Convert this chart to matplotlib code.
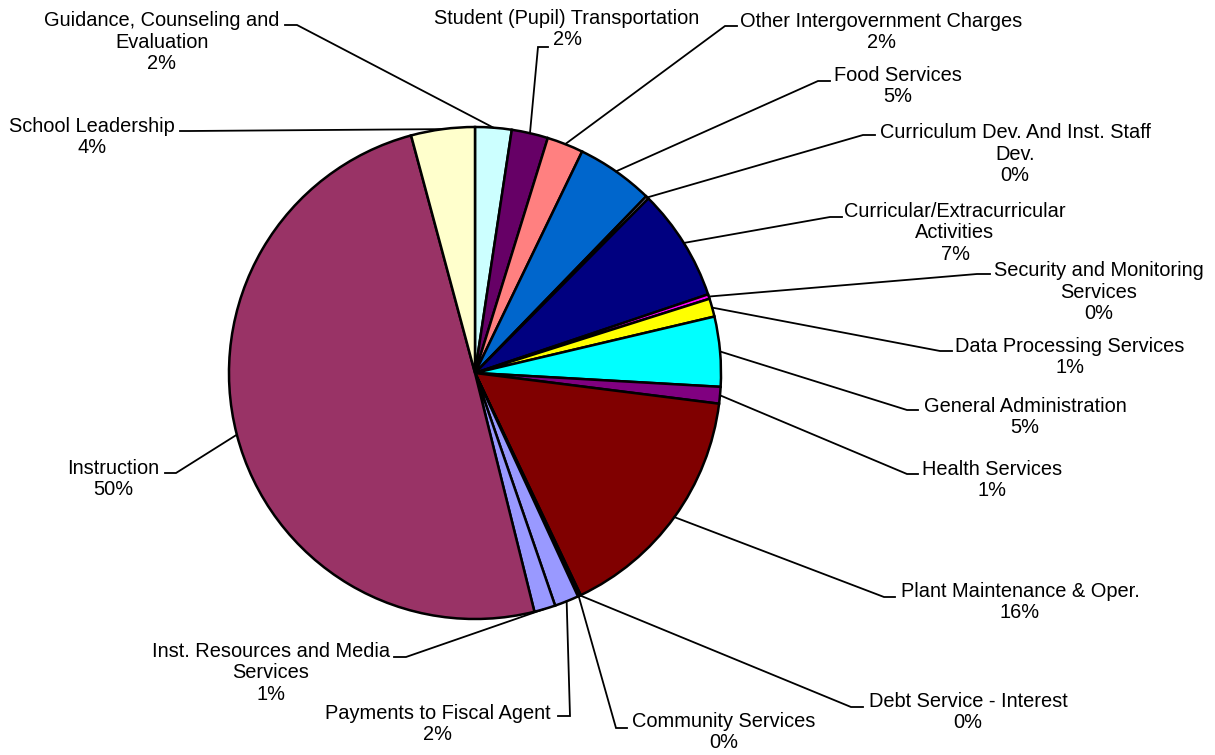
import matplotlib
matplotlib.use("Agg")
import matplotlib.pyplot as plt
import numpy as np

# ---- data (clockwise from 12 o'clock) ----
categories = [
    "Guidance, Counseling and\nEvaluation",
    "Student (Pupil) Transportation",
    "Other Intergovernment Charges",
    "Food Services",
    "Curriculum Dev. And Inst. Staff\nDev.",
    "Curricular/Extracurricular\nActivities",
    "Security and Monitoring\nServices",
    "Data Processing Services",
    "General Administration",
    "Health Services",
    "Plant Maintenance & Oper.",
    "Debt Service - Interest",
    "Community Services",
    "Payments to Fiscal Agent",
    "Inst. Resources and Media\nServices",
    "Instruction",
    "School Leadership",
]
values = [2.4, 2.4, 2.4, 5.1, 0.2, 7.4, 0.3, 1.2, 4.6, 1.1, 16.0, 0.1, 0.1, 1.6, 1.4, 49.9, 4.2]

colors = ["#CCFFFF", "#660066", "#FF8080", "#0066CC", "#CCCCFF", "#000080",
          "#FF00FF", "#FFFF00", "#00FFFF", "#800080", "#800000", "#008080",
          "#0000FF", "#9999FF", "#9999FF", "#993366", "#FFFFCC"]
explode = [0.025 if c == "Instruction" else 0.0 for c in categories]

# ---- layout (pixel coordinates, y measured from top) ----
W, H = 1215, 755
# text block center x, y ; elbow x, y ; anchor x
layout = [
    (162, 42, 297, 25, 285),
    (567, 29, 538, 47, 548),
    (881, 32, 725, 26, 737),
    (898, 86, 818, 81, 830),
    (1015, 154, 863, 135, 875),
    (955, 233, 830, 217, 842),
    (1099, 292, 977, 274, 990),
    (1070, 357, 940, 351, 952),
    (1025, 417, 907, 410, 918),
    (992, 480, 907, 474, 918),
    (1020, 602, 884, 597, 895),
    (968, 712, 851, 707, 863),
    (724, 732, 616, 728, 627),
    (438, 724, 570, 716, 558),
    (271, 673, 406, 657, 394),
    (113, 479, 176, 473, 165),
    (92, 137, 190, 131, 180),
]

plt.rcParams['font.family'] = ['Liberation Sans', 'DejaVu Sans']

fig = plt.figure(figsize=(W / 100, H / 100), dpi=100)
ax = fig.add_axes([0, 0, 1, 1])

cx, cy, R = 475, H - 373, 246
wedges, _ = ax.pie(values, colors=colors, startangle=90, counterclock=False,
                   explode=explode, radius=R, center=(cx, cy),
                   wedgeprops=dict(edgecolor='black', linewidth=1.8))

total = sum(values)
for w, name, v, (tx, ty, ex, ey, axx) in zip(wedges, categories, values, layout):
    mid = np.deg2rad((w.theta1 + w.theta2) / 2)
    wx, wy = w.center
    px = wx + w.r * np.cos(mid)
    py = wy + w.r * np.sin(mid)
    ax.plot([px, ex, axx], [py, H - ey, H - ey], color='black', lw=1.3,
            solid_joinstyle='miter', zorder=3)
    pct = f"{round(v / total * 100):.0f}%"
    ax.text(tx, H - ty, f"{name}\n{pct}", ha='center', va='center',
            multialignment='center', fontsize=14.4, linespacing=1.17,
            color='black')

ax.set_xlim(0, W)
ax.set_ylim(0, H)
ax.set_aspect('equal', adjustable='box')
ax.axis('off')

fig.savefig("out.png", dpi=100, facecolor='white')
